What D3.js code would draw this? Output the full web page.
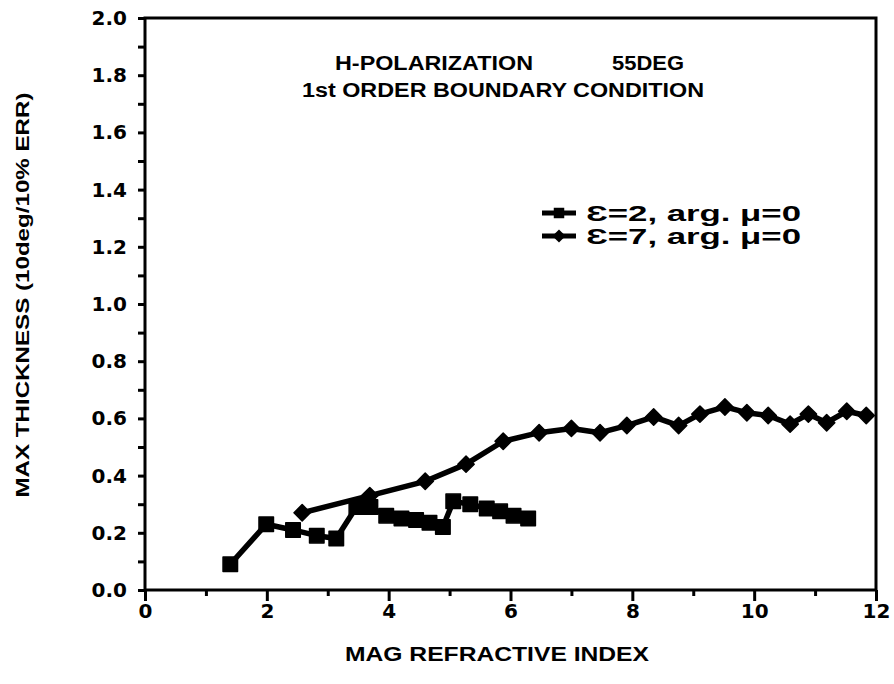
<!DOCTYPE html>
<html>
<head>
<meta charset="utf-8">
<script src="https://cdn.jsdelivr.net/npm/d3@7"></script>
<style>
  body { margin: 0; background: #fff; }
  text { font-family: "Liberation Sans", Arial, sans-serif; font-weight: bold; fill: #000; }
  .tick text { font-family: "DejaVu Sans", sans-serif; font-weight: bold; }
</style>
</head>
<body>
<div id="chart"></div>
<script>
// eps = 2, arg mu = 0 (squares)
var eps2X = [1.40, 1.99, 2.43, 2.82, 3.14, 3.47, 3.70, 3.96, 4.21, 4.45, 4.67, 4.89, 5.06, 5.34, 5.61, 5.83, 6.05, 6.29];
var eps2Y = [0.09, 0.23, 0.21, 0.19, 0.18, 0.29, 0.29, 0.26, 0.25, 0.245, 0.235, 0.22, 0.31, 0.30, 0.285, 0.275, 0.26, 0.25];

// eps = 7, arg mu = 0 (diamonds)
var eps7X = [2.58, 3.69, 4.60, 5.27, 5.88, 6.47, 7.00, 7.47, 7.91, 8.35, 8.76, 9.11, 9.52, 9.88, 10.23, 10.59, 10.89, 11.19, 11.52, 11.84];
var eps7Y = [0.27, 0.33, 0.38, 0.44, 0.52, 0.55, 0.565, 0.55, 0.575, 0.605, 0.575, 0.615, 0.64, 0.62, 0.61, 0.58, 0.615, 0.585, 0.625, 0.61];

var xTicks = [0, 2, 4, 6, 8, 10, 12];
var yTicks = [0.0, 0.2, 0.4, 0.6, 0.8, 1.0, 1.2, 1.4, 1.6, 1.8, 2.0];

var width = 894;
var height = 684;
var margin = { left: 145, right: 18, top: 18, bottom: 94 };

var svg = d3.select('#chart')
  .append('svg')
  .attr('width', width)
  .attr('height', height);

var x = d3.scaleLinear().domain([0, 12]).range([margin.left, width - margin.right]);
var y = d3.scaleLinear().domain([0, 2]).range([height - margin.bottom, margin.top]);

// frame
svg.append('rect')
  .attr('x', x(0)).attr('y', y(2))
  .attr('width', x(12) - x(0)).attr('height', y(0) - y(2))
  .style('fill', 'none').style('stroke', '#000').style('stroke-width', 3);

// y axis: ticks every 0.1, labels every 0.2
var yAxis = d3.axisLeft(y)
  .tickValues(d3.range(0, 21).map(function(i) { return i / 10; }))
  .tickSize(7)
  .tickFormat(function(d) {
    var isLabel = yTicks.some(function(t) { return Math.abs(t - d) < 1e-9; });
    return isLabel ? d3.format('.1f')(d) : '';
  });

var gy = svg.append('g')
  .attr('transform', 'translate(' + x(0) + ',0)')
  .call(yAxis);
gy.select('.domain').remove();
gy.selectAll('line').style('stroke-width', 3);
gy.selectAll('text')
  .attr('x', -18)
  .style('font-size', '20px');

// x axis: ticks every 1, labels every 2
var xAxis = d3.axisBottom(x)
  .tickValues(d3.range(0, 13))
  .tickSize(8)
  .tickFormat(function(d) { return xTicks.indexOf(d) >= 0 ? d : ''; });

var gx = svg.append('g')
  .attr('transform', 'translate(0,' + y(0) + ')')
  .call(xAxis);
gx.select('.domain').remove();
gx.selectAll('line')
  .style('stroke-width', 3)
  .attr('y2', function(d) { return d % 2 === 0 ? 11 : 6; });
gx.selectAll('text')
  .attr('y', 14)
  .style('font-size', '20px');

// axis titles
svg.append('text')
  .attr('transform', 'translate(29,295) rotate(-90)')
  .attr('text-anchor', 'middle')
  .attr('textLength', 405)
  .attr('lengthAdjust', 'spacingAndGlyphs')
  .style('font-size', '19px')
  .text('MAX THICKNESS (10deg/10% ERR)');

svg.append('text')
  .attr('x', 497)
  .attr('y', 661)
  .attr('text-anchor', 'middle')
  .attr('textLength', 304)
  .attr('lengthAdjust', 'spacingAndGlyphs')
  .style('font-size', '20px')
  .text('MAG REFRACTIVE INDEX');

// in-plot titles
svg.append('text').attr('x', 335).attr('y', 70)
  .attr('textLength', 198).attr('lengthAdjust', 'spacingAndGlyphs')
  .style('font-size', '20px')
  .text('H-POLARIZATION');
svg.append('text').attr('x', 612).attr('y', 70)
  .attr('textLength', 72).attr('lengthAdjust', 'spacingAndGlyphs')
  .style('font-size', '20px')
  .text('55DEG');
svg.append('text').attr('x', 302).attr('y', 97)
  .attr('textLength', 402).attr('lengthAdjust', 'spacingAndGlyphs')
  .style('font-size', '20px')
  .text('1st ORDER BOUNDARY CONDITION');

var line = d3.line()
  .x(function(d) { return x(d[0]); })
  .y(function(d) { return y(d[1]); });

var eps2 = d3.zip(eps2X, eps2Y);
var eps7 = d3.zip(eps7X, eps7Y);

var diamondType = d3.symbolDiamond2 || d3.symbolDiamond;
var squareSym = d3.symbol().type(d3.symbolSquare).size(210);
var diamondSym = d3.symbol().type(diamondType).size(170);

function drawSeries(data, sym) {
  svg.append('path')
    .datum(data)
    .attr('d', line)
    .style('fill', 'none')
    .style('stroke', '#000')
    .style('stroke-width', 5.5)
    .style('stroke-linejoin', 'round');
  svg.selectAll(null)
    .data(data)
    .enter().append('path')
    .attr('transform', function(d) { return 'translate(' + x(d[0]) + ',' + y(d[1]) + ')'; })
    .attr('d', sym)
    .style('fill', '#000')
    .style('stroke', '#000')
    .style('stroke-width', 1.5)
    .style('stroke-linejoin', 'round');
}

drawSeries(eps2, squareSym);
drawSeries(eps7, diamondSym);

// legend
var legendItems = [
  { label: 'Ɛ=2, arg. μ=0', sym: d3.symbol().type(d3.symbolSquare).size(110) },
  { label: 'Ɛ=7, arg. μ=0', sym: d3.symbol().type(diamondType).size(110) }
];

var legend = svg.selectAll('.legend')
  .data(legendItems)
  .enter().append('g')
  .attr('class', 'legend')
  .attr('transform', function(d, i) { return 'translate(542,' + (213 + i * 23) + ')'; });

legend.append('line')
  .attr('x1', 0).attr('x2', 34)
  .style('stroke', '#000').style('stroke-width', 5);

legend.append('path')
  .attr('transform', 'translate(17,0)')
  .attr('d', function(d) { return d.sym(); })
  .style('fill', '#000');

legend.append('text')
  .attr('x', 44)
  .attr('y', 8)
  .attr('textLength', 215)
  .attr('lengthAdjust', 'spacingAndGlyphs')
  .style('font-size', '22px')
  .text(function(d) { return d.label; });
</script>
</body>
</html>
